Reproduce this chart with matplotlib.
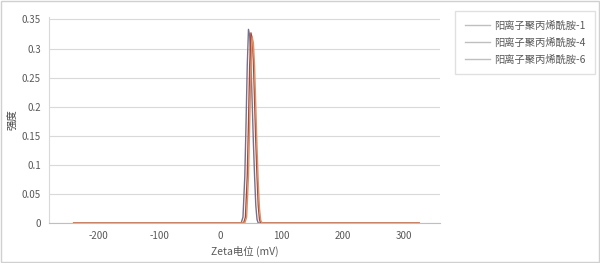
import matplotlib.pyplot as plt
from matplotlib.patches import Rectangle

plt.rcParams['font.family'] = ['Noto Sans CJK SC', 'DejaVu Sans']

# 数据
series_names = ['阳离子聚丙烯酰胺-1', '阳离子聚丙烯酰胺-4', '阳离子聚丙烯酰胺-6']
x1 = [-240, 34, 37, 40, 42, 44, 46, 48, 50, 52, 54, 56, 58, 60, 62, 325]
y1 = [0, 0, 0.01, 0.08, 0.17, 0.27, 0.333, 0.322, 0.28, 0.21, 0.14, 0.08, 0.03, 0.006, 0, 0]
x4 = [-240, 38, 41, 44, 46, 48, 50, 52, 54, 56, 58, 60, 62, 64, 66, 325]
y4 = [0, 0, 0.01, 0.08, 0.17, 0.27, 0.327, 0.318, 0.28, 0.21, 0.14, 0.08, 0.03, 0.006, 0, 0]
x6 = [-240, 40, 43, 46, 48, 50, 52, 54, 56, 58, 60, 62, 64, 66, 68, 325]
y6 = [0, 0, 0.01, 0.08, 0.17, 0.26, 0.32, 0.31, 0.27, 0.2, 0.13, 0.07, 0.025, 0.005, 0, 0]
xticks = [-200, -100, 0, 100, 200, 300]
yticks = [0, 0.05, 0.1, 0.15, 0.2, 0.25, 0.3, 0.35]

colors = ['#77708a', '#a9483a', '#dc9066']
txt = '#595959'

fig = plt.figure(figsize=(6, 2.63), dpi=100)
ax = fig.add_axes([0.082, 0.152, 0.652, 0.785])

for xs, ys, c, n in zip([x1, x4, x6], [y1, y4, y6], colors, series_names):
    ax.plot(xs, ys, color=c, lw=1.0, label=n)

ax.set_xlim(-280, 360)
ax.set_ylim(0, 0.355)
ax.set_xticks(xticks)
ax.set_xticklabels([str(v) for v in xticks])
ax.set_yticks(yticks)
ax.set_yticklabels(['0', '0.05', '0.1', '0.15', '0.2', '0.25', '0.3', '0.35'])
ax.tick_params(length=0, labelsize=7, colors=txt, pad=6)
ax.grid(axis='y', color='#d9d9d9', lw=0.8)
ax.set_axisbelow(True)
for s in ['top', 'right']:
    ax.spines[s].set_visible(False)
ax.spines['left'].set_color('#d9d9d9')
ax.spines['bottom'].set_color('#bfbfbf')
ax.set_xlabel('Zeta电位 (mV)', fontsize=7.5, color=txt, labelpad=3)
ax.set_ylabel('强度', fontsize=7.5, color='#404040')
ax.yaxis.set_label_coords(-0.078, 0.5)

leg = fig.legend(loc='upper left', bbox_to_anchor=(0.752, 0.975), fontsize=7.4,
                 frameon=True, fancybox=False, edgecolor='#d9d9d9',
                 handlelength=2.4, borderpad=0.95, labelspacing=0.66, handletextpad=0.4,
                 borderaxespad=0.4)
for t in leg.get_texts():
    t.set_color(txt)
for h in leg.get_lines():
    h.set_color('#bfbfbf')

fig.patches.append(Rectangle((0.002, 0.004), 0.996, 0.992, transform=fig.transFigure,
                             fill=False, edgecolor='#d0d0d0', lw=1))

fig.savefig('out.png', dpi=100)
